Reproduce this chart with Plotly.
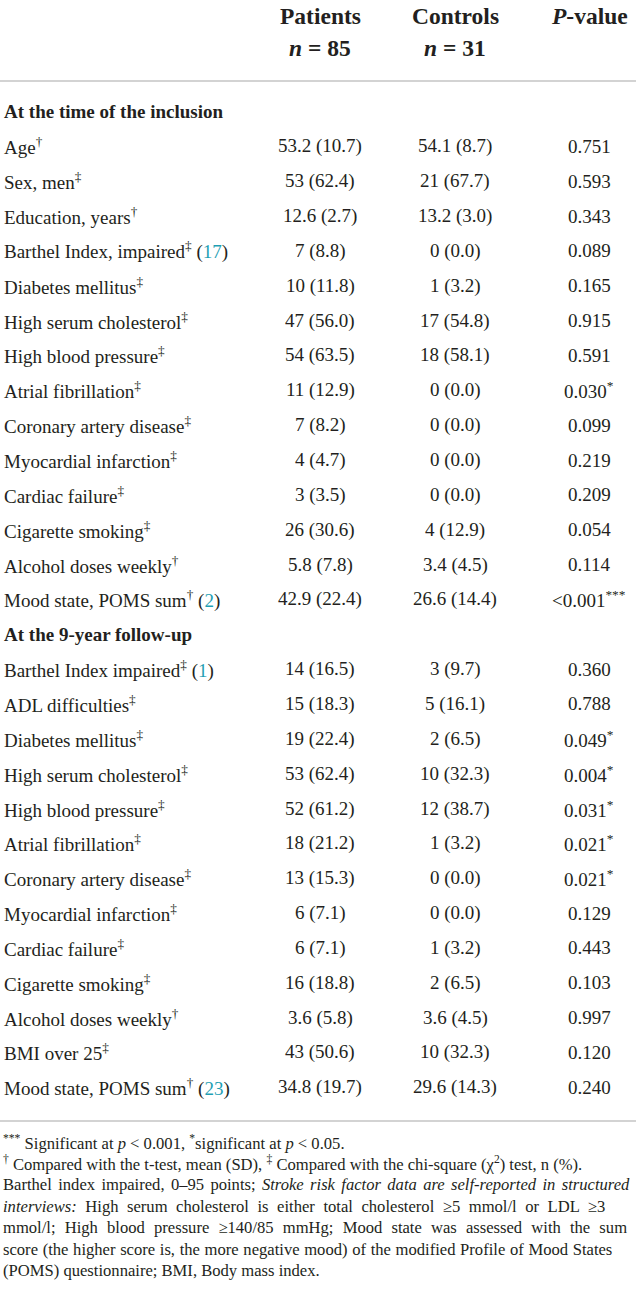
import plotly.graph_objects as go

# column headers
col_titles = ["<b>Patients</b>", "<b>Controls</b>", "<b><i>P</i>-value</b>"]
col_counts = ["<b><i>n</i> = 85</b>", "<b><i>n</i> = 31</b>", ""]

CITE = "#1f9fb4"


def cite(n):
    return "(<span style='color:%s'>%s</span>)" % (CITE, n)


# section 1: at the time of the inclusion
section1 = "At the time of the inclusion"
labels1 = [
    "Age<sup>†</sup>",
    "Sex, men<sup>‡</sup>",
    "Education, years<sup>†</sup>",
    "Barthel Index, impaired<sup>‡</sup> " + cite(17),
    "Diabetes mellitus<sup>‡</sup>",
    "High serum cholesterol<sup>‡</sup>",
    "High blood pressure<sup>‡</sup>",
    "Atrial fibrillation<sup>‡</sup>",
    "Coronary artery disease<sup>‡</sup>",
    "Myocardial infarction<sup>‡</sup>",
    "Cardiac failure<sup>‡</sup>",
    "Cigarette smoking<sup>‡</sup>",
    "Alcohol doses weekly<sup>†</sup>",
    "Mood state, POMS sum<sup>†</sup> " + cite(2),
]
patients1 = ["53.2 (10.7)", "53 (62.4)", "12.6 (2.7)", "7 (8.8)", "10 (11.8)",
             "47 (56.0)", "54 (63.5)", "11 (12.9)", "7 (8.2)", "4 (4.7)",
             "3 (3.5)", "26 (30.6)", "5.8 (7.8)", "42.9 (22.4)"]
controls1 = ["54.1 (8.7)", "21 (67.7)", "13.2 (3.0)", "0 (0.0)", "1 (3.2)",
             "17 (54.8)", "18 (58.1)", "0 (0.0)", "0 (0.0)", "0 (0.0)",
             "0 (0.0)", "4 (12.9)", "3.4 (4.5)", "26.6 (14.4)"]
pvalues1 = ["0.751", "0.593", "0.343", "0.089", "0.165", "0.915", "0.591",
            "0.030<sup>*</sup>", "0.099", "0.219", "0.209", "0.054", "0.114",
            "&lt;0.001<sup>***</sup>"]

# section 2: at the 9-year follow-up
section2 = "At the 9-year follow-up"
labels2 = [
    "Barthel Index impaired<sup>‡</sup> " + cite(1),
    "ADL difficulties<sup>‡</sup>",
    "Diabetes mellitus<sup>‡</sup>",
    "High serum cholesterol<sup>‡</sup>",
    "High blood pressure<sup>‡</sup>",
    "Atrial fibrillation<sup>‡</sup>",
    "Coronary artery disease<sup>‡</sup>",
    "Myocardial infarction<sup>‡</sup>",
    "Cardiac failure<sup>‡</sup>",
    "Cigarette smoking<sup>‡</sup>",
    "Alcohol doses weekly<sup>†</sup>",
    "BMI over 25<sup>‡</sup>",
    "Mood state, POMS sum<sup>†</sup> " + cite(23),
]
patients2 = ["14 (16.5)", "15 (18.3)", "19 (22.4)", "53 (62.4)", "52 (61.2)",
             "18 (21.2)", "13 (15.3)", "6 (7.1)", "6 (7.1)", "16 (18.8)",
             "3.6 (5.8)", "43 (50.6)", "34.8 (19.7)"]
controls2 = ["3 (9.7)", "5 (16.1)", "2 (6.5)", "10 (32.3)", "12 (38.7)",
             "1 (3.2)", "0 (0.0)", "0 (0.0)", "1 (3.2)", "2 (6.5)",
             "3.6 (4.5)", "10 (32.3)", "29.6 (14.3)"]
pvalues2 = ["0.360", "0.788", "0.049<sup>*</sup>", "0.004<sup>*</sup>",
            "0.031<sup>*</sup>", "0.021<sup>*</sup>", "0.021<sup>*</sup>",
            "0.129", "0.443", "0.103", "0.997", "0.120", "0.240"]

footnotes = [
    "<sup>***</sup> Significant at <i>p</i> &lt; 0.001, <sup>*</sup>significant at <i>p</i> &lt; 0.05.",
    "<sup>†</sup> Compared with the t-test, mean (SD), <sup>‡</sup> Compared with the chi-square (χ<sup>2</sup>) test, n (%).",
    "Barthel index impaired, 0–95 points; <i>Stroke risk factor data are self-reported in structured</i>",
    "<i>interviews:</i> High serum cholesterol is either total cholesterol ≥5 mmol/l or LDL ≥3",
    "mmol/l; High blood pressure ≥140/85 mmHg; Mood state was assessed with the sum",
    "score (the higher score is, the more negative mood) of the modified Profile of Mood States",
    "(POMS) questionnaire; BMI, Body mass index.",
]
# extra word spacing (px) to imitate the justified paragraph
footnote_spacing = [0, 0, 2.2, 4.4, 5.0, 0.5, 0]

W, H = 638, 1302
FONT = "Liberation Serif"
INK = "#231f20"
col_x = [320, 455, 589]
label_x = 2
row0, pitch = 111.5, 34.85

ann = []


def add(x, y, text, size=19, anchor="center"):
    ann.append(dict(x=x, y=y, xref="x", yref="y", text=text, showarrow=False,
                    xanchor=anchor, yanchor="middle",
                    font=dict(family=FONT, size=size, color=INK)))


for cx, t, c in zip(col_x, col_titles, col_counts):
    add(cx, 16, t, size=23.5)
    if c:
        add(cx, 48, c, size=23.5)

k = 0
for sec, labels, pats, ctrls, pvs in [(section1, labels1, patients1, controls1, pvalues1),
                                      (section2, labels2, patients2, controls2, pvalues2)]:
    add(label_x, row0 + pitch * k, "<b>%s</b>" % sec, anchor="left")
    k += 1
    for lab, p, c, pv in zip(labels, pats, ctrls, pvs):
        y = row0 + pitch * k
        add(label_x, y, lab, anchor="left")
        add(col_x[0], y, p)
        add(col_x[1], y, c)
        add(col_x[2], y, pv)
        k += 1

for i, (line, ws) in enumerate(zip(footnotes, footnote_spacing)):
    if ws:
        line = "<span style='word-spacing:%spx'>%s</span>" % (ws, line)
    add(1, 1142 + 21.4 * i, line, size=16.6, anchor="left")

rule = dict(type="line", xref="x", yref="y", x0=0, x1=636,
            line=dict(color="#c4c4c4", width=1.5))
shapes = [dict(rule, y0=81, y1=81), dict(rule, y0=1121, y1=1121)]

fig = go.Figure()
fig.update_layout(
    width=W, height=H,
    margin=dict(l=0, r=0, t=0, b=0),
    paper_bgcolor="white", plot_bgcolor="white",
    xaxis=dict(range=[0, W], visible=False, fixedrange=True),
    yaxis=dict(range=[H, 0], visible=False, fixedrange=True),
    annotations=ann, shapes=shapes, showlegend=False,
)
# the page body has a default 8px margin; drop it so the table fills the window
fig.write_html("out.html", config={"displayModeBar": False},
               post_script="document.body.style.margin='0';")
